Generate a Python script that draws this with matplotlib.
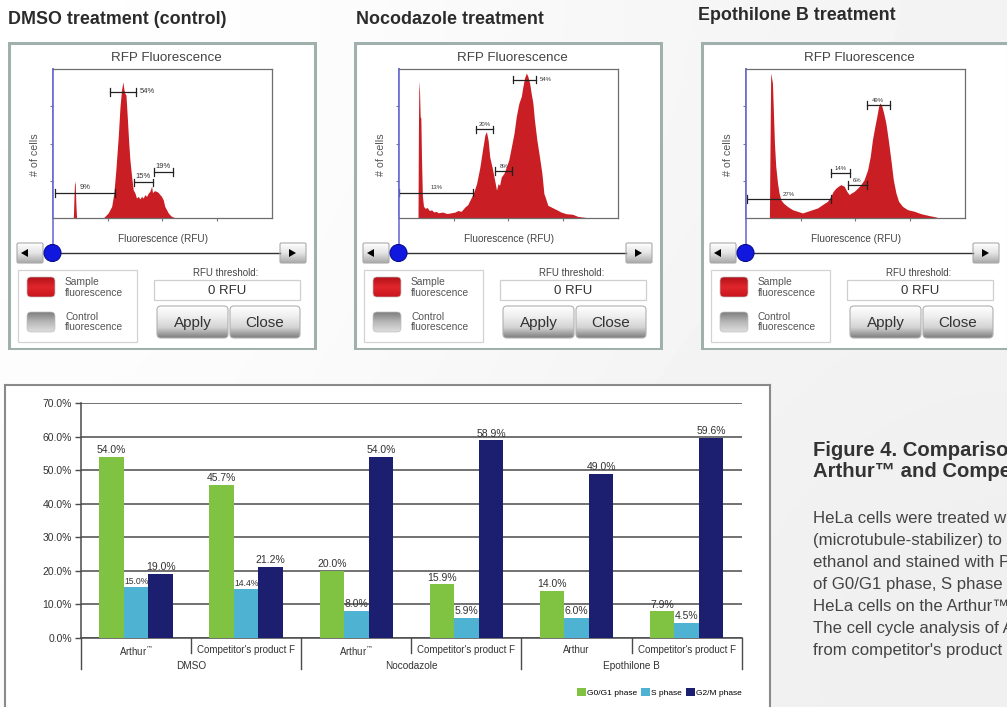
import numpy as np
import matplotlib
matplotlib.use("Agg")
from matplotlib import pyplot as plt
from matplotlib.patches import FancyBboxPatch, Rectangle, Circle, Polygon, Patch
from matplotlib.colors import LinearSegmentedColormap
import matplotlib.transforms as mtransforms

W, H = 1007, 707
plt.rcParams['font.family'] = ['Liberation Sans', 'DejaVu Sans']

# ---------------- bar chart data ----------------
categories = ["Arthur$^{™}$", "Competitor's product F", "Arthur$^{™}$",
              "Competitor's product F", "Arthur", "Competitor's product F"]
treatments = ["DMSO", "Nocodazole", "Epothilone B"]
phases = ["G0/G1 phase", "S phase", "G2/M phase"]
g0g1 = [54.0, 45.7, 20.0, 15.9, 14.0, 7.9]
s_phase = [15.0, 14.4, 8.0, 5.9, 6.0, 4.5]
g2m = [19.0, 21.2, 54.0, 58.9, 49.0, 59.6]
yticks = [0, 10, 20, 30, 40, 50, 60, 70]
phase_colors = ['#80c242', '#4eb3d3', '#1c1e70']

# ---------------- histogram profiles (% of box) ----------------
dmso_profile = [(0, 0), (9.4, 0), (9.8, 18), (10.0, 25), (10.3, 22), (10.6, 8), (10.9, 0),
                (23.1, 0), (23.8, 1.1), (25.3, 3.4), (26.9, 7.8), (27.9, 16.8), (28.8, 32.4),
                (29.9, 54.8), (30.7, 74.9), (31.4, 86.1), (32.0, 91.3), (32.5, 86), (32.9, 83.7),
                (33.4, 82.6), (34.0, 68), (34.6, 52.3), (35.2, 39), (36.0, 27.7), (36.7, 19),
                (37.5, 16.8), (38.2, 13.4), (39.0, 14.5), (39.8, 12.8), (40.5, 14.5), (41.3, 13.4),
                (42.0, 15.7), (42.8, 14.5), (43.6, 16.8), (44.3, 17.9), (45.1, 21.3), (45.5, 17),
                (46.1, 18), (46.6, 18.3), (47.3, 17.9), (48.1, 17.2), (48.9, 15.7), (49.6, 14.5),
                (50.4, 12.3), (51.1, 7.8), (51.9, 5.6), (52.7, 3.4), (53.4, 2.2), (54.2, 1.1),
                (55.2, 0.5), (56.4, 0), (100, 0)]
noco_profile = [(0, 0), (8.8, 0), (9.0, 60), (9.2, 92), (9.5, 85), (9.8, 68), (10.1, 67),
                (10.4, 40), (10.8, 15), (11.3, 8), (12, 6.5), (13, 7), (14, 5), (15, 5.5), (16, 4),
                (17, 4.5), (18, 3.5), (20, 4), (22, 3), (24, 3.5), (25.7, 4), (27, 5), (28.5, 4.5),
                (30.2, 7.4), (31.5, 9), (32.5, 12), (34, 16.4), (35.5, 23), (37, 34), (38.2, 45.6),
                (39.3, 55.7), (40, 58), (40.8, 52), (41.5, 41), (42.6, 34), (43.8, 25), (44.6, 18.7),
                (45.3, 23), (46, 22), (46.8, 27.6), (48, 30), (49, 34), (50.2, 39), (51.4, 47.9),
                (52.6, 57), (53.6, 68), (54.8, 77), (55.9, 81.6), (56.6, 88), (57.4, 94),
                (58.2, 97.3), (58.9, 95), (59.7, 90.6), (60.4, 83.8), (61.2, 77), (61.9, 65.8),
                (63, 52.4), (64.2, 41), (65.3, 30), (66.2, 16.4), (66.8, 14), (68, 8.5),
                (69.5, 7.4), (71, 6.3), (72.5, 5.2), (74, 4), (76.3, 2.9), (79.3, 2.5),
                (81.6, 1.1), (86.1, 0.2), (86.9, 0), (100, 0)]
epo_profile = [(0, 0), (10.8, 0), (11.4, 97.3), (12.2, 90.6), (12.6, 72.7), (13.1, 50.3),
               (13.7, 34.7), (14.5, 23.5), (15.2, 16.8), (16, 12.3), (17.2, 10), (19, 7.8),
               (21.3, 5.6), (23.6, 4.5), (25.9, 3.4), (28.2, 4.5), (30.4, 5.6), (32.7, 6.7),
               (35, 9), (37.3, 11.2), (38.8, 14.5), (39.9, 17.9), (41.1, 20), (42.2, 21.3),
               (43.4, 22.4), (44.9, 21.3), (46.1, 17.9), (47.2, 15.7), (48.2, 16.8), (49.5, 17.9),
               (51, 20), (52.5, 22.4), (54, 25.7), (55.6, 32.4), (56.8, 41.4), (57.8, 52.6),
               (58.9, 61.5), (59.8, 68.2), (60.6, 74.9), (61.3, 77.2), (62.1, 74.9), (62.9, 70.5),
               (63.9, 63.8), (65, 52.6), (66.2, 39.1), (67.3, 25.7), (68.5, 16.8), (69.7, 11.2),
               (71.5, 7.8), (73.8, 5.6), (76.9, 4.5), (79.9, 2.9), (83.7, 1.6), (86.8, 0.7),
               (87.5, 0), (100, 0)]

# gates: start, end, level, label, label side
dmso_gates = [(26.1, 37.9, 84.6, "54%", "right"), (1.1, 28.4, 16.8, "9%", "above"),
              (37.0, 45.8, 23.9, "15%", "above"), (46.1, 54.9, 30.9, "19%", "above")]
noco_gates = [(52.1, 62.4, 92.8, "54%", "right"), (35.2, 43.2, 59.6, "20%", "above"),
              (44.1, 51.8, 31.5, "8%", "above"), (0.3, 34.1, 16.9, "13%", "above")]
epo_gates = [(55.3, 65.6, 75.8, "49%", "above"), (39.1, 47.6, 30.2, "14%", "above"),
             (46.7, 55.3, 22.1, "6%", "above"), (0.5, 38.8, 12.8, "27%", "above")]

panel_titles = ["DMSO treatment (control)", "Nocodazole treatment", "Epothilone B treatment"]

title_lines = ["Figure 4. Comparison of cell cycle analysis",
               "Arthur™ and Competitor's product F"]
body_lines = ["HeLa cells were treated with DMSO, Nocodazole or Epothilone B",
              "(microtubule-stabilizer) to arrest the cell cycle, fixed in",
              "ethanol and stained with PI. The distribution",
              "of G0/G1 phase, S phase and G2/M phase of",
              "HeLa cells on the Arthur™ was analyzed.",
              "The cell cycle analysis of Arthur™ is comparable to",
              "from competitor's product F."]


def px_rect(x0, y0, x1, y1):
    return [x0 / W, 1 - y1 / H, (x1 - x0) / W, (y1 - y0) / H]


def grad_patch(ax, x0, y0, w, h, colors, edge, rounding, lw=0.8, z=2):
    box = FancyBboxPatch((x0, y0), w, h, boxstyle="round,pad=0,rounding_size=%g" % rounding,
                         fc='none', ec=edge, lw=lw, zorder=z + 1)
    ax.add_patch(box)
    cmap = LinearSegmentedColormap.from_list('g', colors)
    im = ax.imshow(np.linspace(0, 1, 60).reshape(-1, 1), cmap=cmap,
                   extent=(x0, x0 + w, y0 + h, y0), aspect='auto', zorder=z,
                   interpolation='bilinear')
    im.set_clip_path(box)
    return box


fig = plt.figure(figsize=(W / 100, H / 100), dpi=100)

# soft page background
bg = fig.add_axes([0, 0, 1, 1])
bg.imshow(np.array([[1.0, 0.955], [0.985, 0.935]]), cmap='gray', vmin=0, vmax=1,
          extent=(0, 1, 0, 1), aspect='auto', interpolation='bicubic')
bg.set_xlim(0, 1); bg.set_ylim(0, 1)
bg.axis('off')

# ---------------- three instrument screenshots ----------------
panel_offsets = [0, 346, 693]
title_pos = [(8, 19), (356, 19), (698, 15)]
profiles = [dmso_profile, noco_profile, epo_profile]
all_gates = [dmso_gates, noco_gates, epo_gates]
gate_fs = [5.5, 4.3, 4.3]

for off, title, (tx, ty), prof, gts, gfs in zip(panel_offsets, panel_titles, title_pos,
                                                 profiles, all_gates, gate_fs):
    fig.text(tx / W, 1 - ty / H, title, fontsize=12.9, fontweight='bold', color='#2b2b2b',
             ha='left', va='center')

    pa = fig.add_axes(px_rect(off + 8, 42, off + 317, 350))
    pa.set_xlim(0, 309)
    pa.set_ylim(308, 0)
    pa.axis('off')
    pa.add_patch(Rectangle((1, 1), 306, 306, fc='white', ec='#9fb0ad', lw=2.2, zorder=1))

    pa.text(158, 16, "RFP Fluorescence", fontsize=9.6, color='#444', ha='center', va='center')
    pa.text(27, 113, "# of cells", fontsize=7.7, color='#555', rotation=90, ha='center',
            va='center')
    pa.text(155, 197, "Fluorescence (RFU)", fontsize=7.2, color='#444', ha='center', va='center')

    # slider
    pa.plot([44.7, 44.7], [27, 211], color='#7070d8', lw=1.2, zorder=3)
    pa.plot([44, 272], [211, 211], color='#333', lw=1, zorder=3)
    for bx, tri in [(9, [(13, 211), (20, 207), (20, 215)]),
                    (272, [(288, 211), (281, 207), (281, 215)])]:
        grad_patch(pa, bx, 201, 26, 20, ['#ffffff', '#e4e4e4', '#a8a8a8'], '#aaaaaa', 1.5)
        pa.add_patch(Polygon(tri, closed=True, fc='black', ec='none', zorder=5))
    pa.add_patch(Circle((44.5, 211), 8.5, fc='#1018e0', ec='#0a0a90', lw=0.8, zorder=6))

    # legend box
    pa.add_patch(Rectangle((10, 228), 119, 72, fc='white', ec='#d3d3d3', lw=0.9, zorder=2))
    grad_patch(pa, 19, 235, 28, 20, ['#b3121a', '#e0262c', '#c8141c'], '#c0c0c0', 4, lw=0.5)
    grad_patch(pa, 19, 270, 28, 20, ['#7e7e7e', '#b8b8b8', '#dedede'], '#c0c0c0', 4, lw=0.5)
    pa.text(57, 245.5, "Sample\nfluorescence", fontsize=7.4, color='#555', ha='left',
            va='center', linespacing=1.1)
    pa.text(57, 280, "Control\nfluorescence", fontsize=7.4, color='#555', ha='left',
            va='center', linespacing=1.1)

    # threshold + buttons
    pa.text(218, 231, "RFU threshold:", fontsize=7, color='#444', ha='center', va='center')
    pa.add_patch(Rectangle((146, 238), 146, 20, fc='white', ec='#cfcfcf', lw=0.9, zorder=2))
    pa.text(219, 248.5, "0 RFU", fontsize=9.5, color='#333', ha='center', va='center')
    for bx, bw, lab in [(149, 71, "Apply"), (222, 70, "Close")]:
        grad_patch(pa, bx, 264, bw, 32, ['#ffffff', '#eeeeee', '#d4d4d4', '#7e7e7e'],
                   '#b0b0b0', 4)
        pa.text(bx + bw / 2, 281, lab, fontsize=11, color='#333', ha='center', va='center',
                zorder=6)

    # histogram box
    ha = fig.add_axes(px_rect(off + 52.7, 69, off + 272, 218))
    xs, ys = np.array(prof).T
    ha.fill_between(xs, ys, color='#c81e24', lw=0)
    ha.set_xlim(0, 100)
    ha.set_ylim(0, 100)
    ha.set_xticks([25, 50, 75])
    ha.set_yticks([25, 50, 75])
    ha.tick_params(length=2, width=0.8, color='#777', labelbottom=False, labelleft=False)
    for sp in ha.spines.values():
        sp.set_color('#6e6e6e')
        sp.set_linewidth(0.9)
    ha.spines['left'].set_color('#6a6ad8')
    ha.spines['left'].set_linewidth(1.2)
    for x0, x1, yv, lab, side in gts:
        ha.plot([x0, x1], [yv, yv], color='#222', lw=0.9)
        for xe in (x0, x1):
            ha.plot([xe, xe], [yv - 2.4, yv + 2.4], color='#222', lw=0.9)
        if side == 'right':
            ha.text(x1 + 2, yv, lab, fontsize=gfs, color='#333', ha='left', va='center')
        else:
            ha.text((x0 + x1) / 2, yv + 1.6, lab, fontsize=gfs, color='#333', ha='center',
                    va='bottom')

# ---------------- bar chart ----------------
frame = fig.add_axes(px_rect(4.7, 384.7, 770, 740))
frame.set_xticks([])
frame.set_yticks([])
frame.set_facecolor('white')
for sp in frame.spines.values():
    sp.set_color('#8a8a8a')
    sp.set_linewidth(1.5)

ax = fig.add_axes(px_rect(81, 403.3, 741.7, 637.7))
ax.set_facecolor('white')
x = np.arange(len(categories))
bw = 0.2225
series = [g0g1, s_phase, g2m]
for j, (vals, col) in enumerate(zip(series, phase_colors)):
    bars = ax.bar(x + (j - 1) * bw, vals, bw, color=col, zorder=3)
    texts = ax.bar_label(bars, fmt='%.1f%%', padding=1.2, fontsize=7.5, color='#333')
    if j == 1:
        for t, v in zip(texts, vals):
            if v >= 10:
                t.set_fontsize(6.2)

ax.set_xlim(-0.5, len(categories) - 0.5)
ax.set_ylim(0, 70)
ax.set_yticks(yticks)
ax.set_yticklabels(['%.1f%%' % v for v in yticks], fontsize=7.5, color='#333')
ax.yaxis.grid(True, color='#4a4a4a', lw=1.1)
ax.set_axisbelow(True)
ax.tick_params(axis='y', length=4, width=1, color='#4a4a4a', pad=2.5)
ax.set_xticks(x)
ax.set_xticklabels(categories, fontsize=7, color='#333')
ax.tick_params(axis='x', length=0, pad=5)
for s in ('top', 'right'):
    ax.spines[s].set_visible(False)
for s in ('left', 'bottom'):
    ax.spines[s].set_color('#4a4a4a')
    ax.spines[s].set_linewidth(1.1)

trans = mtransforms.blended_transform_factory(ax.transData, ax.transAxes)
for xs_ in [0.5, 2.5, 4.5]:
    ax.plot([xs_, xs_], [0, -0.065], color='#4a4a4a', lw=1, transform=trans, clip_on=False)
for xs_ in [-0.5, 1.5, 3.5, 5.5]:
    ax.plot([xs_, xs_], [0, -0.1335], color='#4a4a4a', lw=1, transform=trans, clip_on=False)
for k, tname in enumerate(treatments):
    ax.text(2 * k + 0.5, -0.121, tname, fontsize=7.2, color='#333', ha='center', va='center',
            transform=trans)

handles = [Patch(fc=c, ec='none') for c in phase_colors]
ax.legend(handles, phases, loc='lower right', bbox_to_anchor=(742 / W, 1 - 697 / H),
          bbox_transform=fig.transFigure, ncol=3, fontsize=6, frameon=False,
          handlelength=1.1, handleheight=1.1, handletextpad=0.15, columnspacing=0.45,
          borderpad=0, borderaxespad=0)

# ---------------- caption on the right ----------------
for k, line in enumerate(title_lines):
    fig.text(813.3 / W, 1 - (450 + 21.7 * k) / H, line, fontsize=14.6, fontweight='bold',
             color='#333', ha='left', va='center')
for k, line in enumerate(body_lines):
    fig.text(813.3 / W, 1 - (518.3 + 22 * k) / H, line, fontsize=12.1, color='#444',
             ha='left', va='center')

fig.savefig('out.png', dpi=100)
